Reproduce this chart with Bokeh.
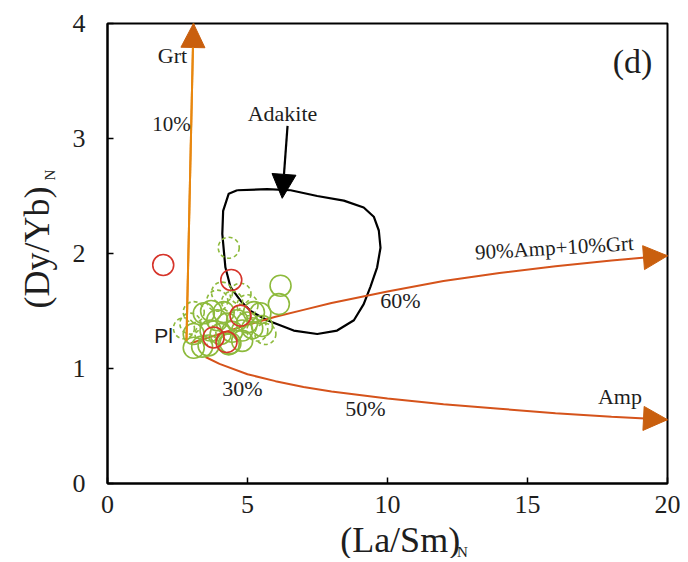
import math
from bokeh.plotting import figure
from bokeh.models import Range1d, Label, Arrow, NormalHead, FixedTicker
from bokeh.layouts import row, column
from bokeh.embed import file_html
from bokeh.resources import INLINE

# ---------------- data ----------------
# Garnet trend (Pl -> Grt)
grt_x = [2.82, 3.07]
grt_y = [1.24, 4.00]
# 90%Amp+10%Grt trend
ampgrt_x = [2.97, 4.0, 5.0, 6.0, 7.0, 8.0, 10.0, 12.0, 14.0, 16.0, 18.0, 19.2, 20.0]
ampgrt_y = [1.22, 1.30, 1.38, 1.45, 1.51, 1.57, 1.67, 1.76, 1.83, 1.89, 1.94, 1.965, 1.98]
# Amp trend
amp_x = [3.5, 4.0, 5.0, 6.0, 7.0, 8.0, 10.0, 12.0, 14.0, 16.0, 18.0, 19.2, 20.0]
amp_y = [1.10, 1.04, 0.95, 0.89, 0.84, 0.80, 0.74, 0.69, 0.65, 0.61, 0.58, 0.565, 0.555]
# Adakite field outline
adk_x = [4.63, 4.33, 4.13, 4.10, 4.21, 4.39, 4.75, 5.11, 5.70, 6.65, 7.49, 8.20, 8.80,
         9.15, 9.39, 9.63, 9.75, 9.69, 9.51, 9.15, 8.44, 7.49, 6.54, 5.70, 4.63]
adk_y = [2.55, 2.52, 2.37, 2.17, 1.88, 1.71, 1.59, 1.50, 1.42, 1.33, 1.30, 1.33, 1.42,
         1.56, 1.71, 1.88, 2.05, 2.20, 2.32, 2.40, 2.46, 2.50, 2.55, 2.56, 2.55]
# Adakite pointer arrow
adk_arrow_x = [6.43, 6.24]
adk_arrow_y = [3.11, 2.48]

# samples
red_x = [1.99, 4.42, 3.79, 4.25, 4.75]
red_y = [1.90, 1.77, 1.27, 1.23, 1.46]
green_x = [3.44, 3.38, 4.33, 4.81, 4.99, 4.63, 4.27, 3.92, 4.15, 5.23, 5.52, 5.46, 4.81,
           4.45, 5.17, 4.04, 3.68, 3.08, 3.61, 4.39, 3.08, 3.70, 6.18, 6.12]
green_y = [1.48, 1.19, 1.21, 1.24, 1.40, 1.42, 1.39, 1.42, 1.49, 1.49, 1.37, 1.48, 1.33,
           1.32, 1.35, 1.30, 1.33, 1.18, 1.20, 1.22, 1.30, 1.50, 1.72, 1.56]
gdash_x = [4.33, 4.09, 2.96, 2.73, 3.92, 4.45, 5.35, 5.64, 3.08, 4.75, 3.50, 5.00]
gdash_y = [2.05, 1.66, 1.39, 1.35, 1.59, 1.58, 1.33, 1.30, 1.49, 1.65, 1.30, 1.55]

x_ticks = [0, 5, 10, 15, 20]
y_ticks = [0, 1, 2, 3, 4]

# annotation texts: (text, x, y, size, angle)
notes = [
    ("Grt", 2.32, 3.72, "22px", 0.0),
    ("10%", 2.29, 3.13, "21px", 0.0),
    ("Adakite", 6.25, 3.22, "22px", 0.0),
    ("(d)", 18.75, 3.67, "34px", 0.0),
    ("30%", 4.82, 0.83, "22px", 0.0),
    ("50%", 9.21, 0.65, "22px", 0.0),
    ("60%", 10.46, 1.59, "22px", 0.0),
    ("90%Amp+10%Grt", 15.96, 2.05, "21px", 0.06),
    ("Amp", 18.3, 0.76, "22px", 0.0),
]

SERIF = "Liberation Serif"
ORANGE = "#E8870F"
RORANGE = "#D5531B"
HEAD = "#C95F0E"
GREEN = "#8DBA3C"
RED = "#D6342A"
TXT = "#1e1e1e"

# sizes of the three panels (pixels)
YW, MW, MH, XH = 60, 620, 521, 37
H = MH + XH

p = figure(width=MW, height=MH, output_backend="svg", toolbar_location=None,
           x_range=Range1d(0, 20), y_range=Range1d(0, 4),
           min_border_left=47, min_border_right=13, min_border_top=23, min_border_bottom=38)
p.grid.visible = False
p.outline_line_color = "black"
p.outline_line_width = 2
p.background_fill_color = "white"

for ax, ticks, nminor, standoff in ((p.xaxis[0], x_ticks, 5, 12), (p.yaxis[0], y_ticks, 4, 22)):
    ax.ticker = FixedTicker(ticks=ticks, num_minor_ticks=nminor)
    ax.axis_line_width = 2
    ax.axis_line_color = "black"
    ax.major_tick_in = 6
    ax.major_tick_out = 0
    ax.minor_tick_in = 6
    ax.minor_tick_out = 0
    ax.major_tick_line_width = 1.5
    ax.minor_tick_line_width = 1.5
    ax.major_label_text_font = SERIF
    ax.major_label_text_font_size = "26px"
    ax.major_label_text_color = TXT
    ax.major_label_standoff = standoff
    ax.axis_label = None

# adakite field
p.line(adk_x, adk_y, line_color="black", line_width=2.2)

# trend lines
p.line(grt_x, grt_y, line_color=ORANGE, line_width=2)
p.line(ampgrt_x, ampgrt_y, line_color=RORANGE, line_width=2)
p.line(amp_x, amp_y, line_color=RORANGE, line_width=2)

def head_arrow(xs, ys, color, head_color, width):
    p.add_layout(Arrow(end=NormalHead(size=24, fill_color=head_color, line_color=head_color),
                       x_start=xs[-2], y_start=ys[-2], x_end=xs[-1], y_end=ys[-1],
                       line_color=color, line_width=width))

head_arrow(grt_x, grt_y, ORANGE, HEAD, 2)
head_arrow(ampgrt_x, ampgrt_y, RORANGE, HEAD, 2)
head_arrow(amp_x, amp_y, RORANGE, HEAD, 2)
head_arrow(adk_arrow_x, adk_arrow_y, "black", "black", 2.2)

# samples
p.scatter(gdash_x, gdash_y, marker="circle", size=21, fill_alpha=0,
          line_color=GREEN, line_width=1.6, line_dash="4 3")
p.scatter(green_x, green_y, marker="circle", size=21, fill_alpha=0,
          line_color=GREEN, line_width=1.6)
p.scatter(red_x, red_y, marker="circle", size=21, fill_alpha=0,
          line_color=RED, line_width=1.6)

for txt, x, y, size, ang in notes:
    p.add_layout(Label(x=x, y=y, text=txt, text_font=SERIF, text_font_size=size,
                       text_align="center", text_baseline="middle", angle=ang,
                       text_color=TXT))

p.add_layout(Label(x=2.0, y=1.29, text="Pl", text_font="Liberation Sans", text_font_size="21px",
                   text_align="center", text_baseline="middle", text_color=TXT))


def blank(w, h):
    f = figure(width=w, height=h, output_backend="svg", toolbar_location=None,
               x_range=Range1d(0, w), y_range=Range1d(0, h),
               x_axis_location=None, y_axis_location=None,
               min_border_left=0, min_border_right=0, min_border_top=0, min_border_bottom=0)
    f.grid.visible = False
    f.outline_line_color = None
    return f

# x-axis title panel (coordinates are pixels inside the panel)
xf = blank(MW, XH)
xf.add_layout(Label(x=324, y=19, text="(La/Sm)", text_font=SERIF, text_font_size="36px",
                    text_align="center", text_baseline="middle", text_color=TXT))
xf.add_layout(Label(x=387, y=7, text="N", text_font=SERIF, text_font_size="15px",
                    text_align="left", text_baseline="middle", text_color=TXT))

# y-axis title panel
yf = blank(YW, H)
yf.add_layout(Label(x=36, y=H - 247, text="(Dy/Yb)", text_font=SERIF, text_font_size="36px",
                    text_align="center", text_baseline="middle", angle=math.pi / 2,
                    text_color=TXT))
yf.add_layout(Label(x=49, y=H - 180, text="N", text_font=SERIF, text_font_size="15px",
                    text_align="left", text_baseline="middle", angle=math.pi / 2,
                    text_color=TXT))

layout = row(yf, column(p, xf, spacing=0), spacing=0)

open("out.html", "w").write(file_html(layout, INLINE))
